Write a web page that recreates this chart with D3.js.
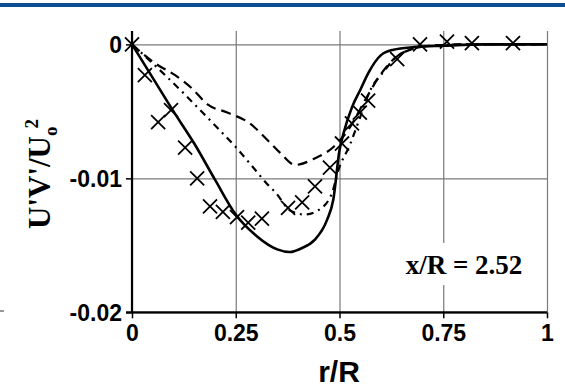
<!DOCTYPE html>
<html>
<head>
<meta charset="utf-8">
<script src="https://cdn.jsdelivr.net/npm/d3@7"></script>
<style>
  body { margin: 0; background: #fff; }
  svg { display: block; }
</style>
</head>
<body>
<svg id="chart" width="565" height="390"></svg>
<script>
// x ticks and y ticks
const xTicks = [0, 0.25, 0.5, 0.75, 1];
const xTickLabels = ["0", "0.25", "0.5", "0.75", "1"];
const yTicks = [0, -0.01, -0.02];
const yTickLabels = ["0", "-0.01", "-0.02"];

// solid line (model 1)
const solidR = [0, 0.05, 0.1, 0.15, 0.2, 0.25, 0.3, 0.35, 0.38, 0.41, 0.44, 0.47, 0.485, 0.5, 0.51, 0.53, 0.55, 0.57, 0.6, 0.63, 0.68, 0.75, 0.85, 1];
const solidV = [0, -0.0025, -0.005, -0.0074, -0.0101, -0.0127, -0.0143, -0.0153, -0.0155, -0.0152, -0.0146, -0.0131, -0.0116, -0.0079, -0.0066, -0.0047, -0.0034, -0.0021, -0.0008, -0.0004, -0.0002, -0.0001, 0, 0];

// dashed line (model 2)
const dashR = [0, 0.06, 0.104, 0.145, 0.183, 0.231, 0.284, 0.325, 0.357, 0.393, 0.441, 0.484, 0.525, 0.561, 0.598, 0.634, 0.67, 0.72, 0.8, 1];
const dashV = [0, -0.0015, -0.0023, -0.0033, -0.0045, -0.0051, -0.0059, -0.0071, -0.0081, -0.009, -0.0085, -0.0077, -0.0062, -0.0042, -0.0023, -0.001, -0.0004, -0.0001, 0, 0];

// dash-dot line (model 3)
const dotR = [0, 0.039, 0.08, 0.123, 0.164, 0.205, 0.248, 0.287, 0.325, 0.347, 0.381, 0.417, 0.448, 0.482, 0.496, 0.525, 0.549, 0.573, 0.61, 0.634, 0.67, 0.72, 0.8, 1];
const dotV = [0, -0.0011, -0.0023, -0.0036, -0.0049, -0.0062, -0.0076, -0.009, -0.0104, -0.0111, -0.0124, -0.0127, -0.0124, -0.0111, -0.0095, -0.0075, -0.0055, -0.0035, -0.0019, -0.001, -0.0004, -0.0001, 0, 0];

// measurements (crosses)
const expR = [0, 0.031, 0.063, 0.094, 0.128, 0.157, 0.188, 0.219, 0.253, 0.28, 0.313, 0.376, 0.41, 0.441, 0.477, 0.506, 0.53, 0.549, 0.569, 0.639, 0.694, 0.759, 0.819, 0.918];
const expV = [0, -0.0023, -0.0058, -0.0049, -0.0077, -0.01, -0.0121, -0.0125, -0.0129, -0.0133, -0.013, -0.0122, -0.0118, -0.0106, -0.0092, -0.0074, -0.0059, -0.0051, -0.0042, -0.0011, 0, 0.0002, 0.0001, 0.0001];

const svg = d3.select("#chart");

// blue band at the top of the page
svg.append("rect")
  .attr("x", 0).attr("y", 3)
  .attr("width", 565).attr("height", 4)
  .attr("fill", "#0c4e92");

// stray mark at the left edge
svg.append("line")
  .attr("x1", 0).attr("x2", 4)
  .attr("y1", 311).attr("y2", 311)
  .attr("stroke", "#777").attr("stroke-width", 1.5);

const x = d3.scaleLinear().domain([0, 1]).range([132, 547]);
const y = d3.scaleLinear().domain([-0.02, 0.001]).range([312.3, 31]);

// grid
svg.append("g")
  .attr("transform", `translate(0,${y(-0.02)})`)
  .call(d3.axisBottom(x).tickValues(xTicks).tickSize(-(y(-0.02) - y(0.001))).tickFormat(""))
  .call(g => g.select(".domain").remove())
  .selectAll("line").attr("stroke", "#7a7a7a").attr("stroke-width", 1.2);

svg.append("g")
  .attr("transform", `translate(${x(0)},0)`)
  .call(d3.axisLeft(y).tickValues(yTicks).tickSize(-(x(1) - x(0))).tickFormat(""))
  .call(g => g.select(".domain").remove())
  .selectAll("line").attr("stroke", "#7a7a7a").attr("stroke-width", 1.2);

// annotation box (white behind text)
svg.append("rect")
  .attr("x", 400).attr("y", 243)
  .attr("width", 130).attr("height", 42)
  .attr("fill", "#fff");

svg.append("text")
  .attr("x", 464).attr("y", 274)
  .attr("text-anchor", "middle")
  .attr("font-family", "'Liberation Serif', 'Times New Roman', serif")
  .attr("font-weight", "bold")
  .attr("font-size", 27)
  .text("x/R = 2.52");

// axes
const xAxis = svg.append("g")
  .attr("transform", `translate(0,${y(-0.02)})`)
  .call(d3.axisBottom(x).tickValues(xTicks).tickSize(6).tickSizeOuter(0)
    .tickFormat((d, i) => xTickLabels[i]));
xAxis.select(".domain").attr("d", `M${x(0) - 6},0H${x(1)}`);

const yAxis = svg.append("g")
  .attr("transform", `translate(${x(0)},0)`)
  .call(d3.axisLeft(y).tickValues(yTicks).tickSize(6).tickSizeOuter(0)
    .tickFormat((d, i) => yTickLabels[i]));
yAxis.select(".domain").attr("d", `M0,${y(0.001)}V${y(-0.02)}`);

[xAxis, yAxis].forEach(g => {
  g.selectAll(".domain").attr("stroke", "#000").attr("stroke-width", 2.2);
  g.selectAll(".tick line").attr("stroke", "#000").attr("stroke-width", 1.5);
  g.selectAll("text")
    .attr("fill", "#000")
    .style("font-family", "'Liberation Sans', Arial, sans-serif")
    .style("font-weight", "bold")
    .style("font-size", "23px");
});
xAxis.selectAll("text").attr("dy", "0.71em").attr("y", 12);
yAxis.selectAll("text").attr("x", -10).attr("dy", "0.35em");

// lines
const line = d3.line()
  .x(d => x(d[0]))
  .y(d => y(d[1]))
  .curve(d3.curveMonotoneX);

svg.append("path")
  .datum(dashR.map((r, i) => [r, dashV[i]]))
  .attr("fill", "none")
  .attr("stroke", "#000")
  .attr("stroke-width", 2.2)
  .attr("stroke-dasharray", "10,6")
  .attr("d", line);

svg.append("path")
  .datum(dotR.map((r, i) => [r, dotV[i]]))
  .attr("fill", "none")
  .attr("stroke", "#000")
  .attr("stroke-width", 2.2)
  .attr("stroke-dasharray", "7,5,2,5")
  .attr("d", line);

svg.append("path")
  .datum(solidR.map((r, i) => [r, solidV[i]]))
  .attr("fill", "none")
  .attr("stroke", "#000")
  .attr("stroke-width", 2.6)
  .attr("d", line);

// crosses
const cross = d3.symbol().type(d3.symbolTimes).size(130);
svg.selectAll(".exp")
  .data(expR.map((r, i) => [r, expV[i]]))
  .enter()
  .append("path")
  .attr("class", "exp")
  .attr("transform", d => `translate(${x(d[0])},${y(d[1])})`)
  .attr("d", cross)
  .attr("fill", "none")
  .attr("stroke", "#000")
  .attr("stroke-width", 1.8);

// axis titles
svg.append("text")
  .attr("x", 339).attr("y", 382)
  .attr("text-anchor", "middle")
  .attr("font-family", "'Liberation Sans', Arial, sans-serif")
  .attr("font-weight", "bold")
  .attr("font-size", 30)
  .text("r/R");

const yl = svg.append("text")
  .attr("transform", "translate(50,174) rotate(-90)")
  .attr("text-anchor", "middle")
  .attr("font-family", "'Liberation Serif', 'Times New Roman', serif")
  .attr("font-weight", "bold")
  .attr("font-size", 31);
yl.append("tspan").text("U'V'/U");
yl.append("tspan").attr("font-size", 19).attr("dy", 7).text("o");
yl.append("tspan").attr("font-size", 19).attr("dx", -2).attr("dy", -19).text("2");
</script>
</body>
</html>
